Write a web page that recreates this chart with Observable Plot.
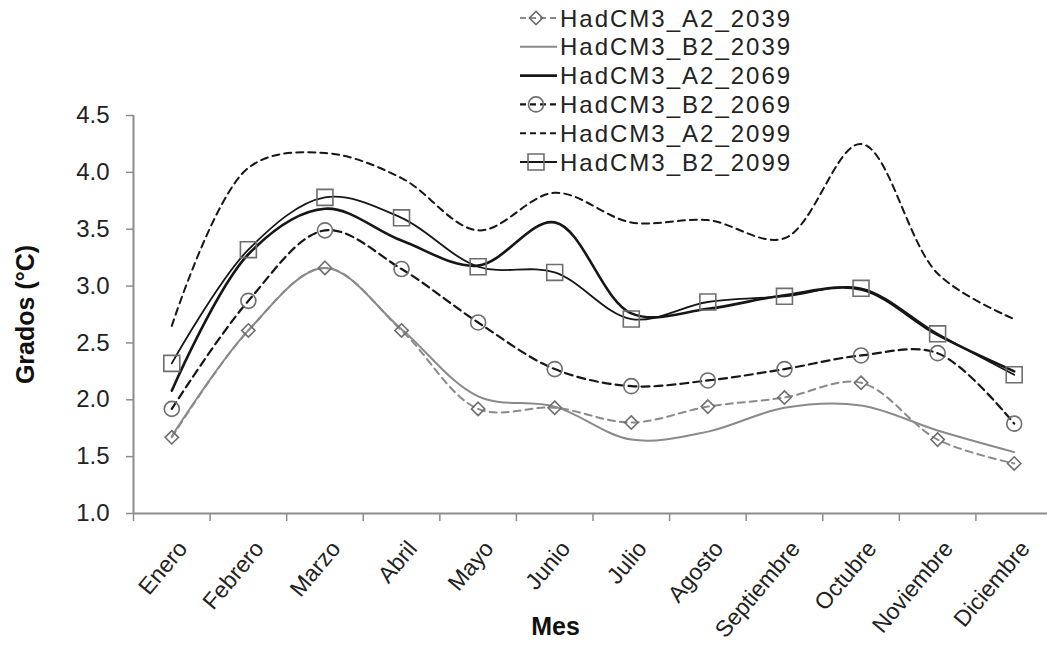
<!DOCTYPE html>
<html>
<head>
<meta charset="utf-8">
<script src="https://cdn.jsdelivr.net/npm/d3@7"></script>
<script src="https://cdn.jsdelivr.net/npm/@observablehq/plot@0.6"></script>
<style>
  html, body { margin: 0; padding: 0; background: #fff; overflow: hidden; }
  #chart { position: relative; width: 1047px; height: 654px; font-family: "Liberation Sans", Arial, sans-serif; }
  #legend { position: absolute; left: 512px; top: 0; }
</style>
</head>
<body>
<div id="chart"></div>
<script>
// Monthly temperature change (°C) projected by HadCM3 for scenarios A2/B2
const months = ["Enero", "Febrero", "Marzo", "Abril", "Mayo", "Junio", "Julio",
  "Agosto", "Septiembre", "Octubre", "Noviembre", "Diciembre"];

const a2_2039 = [1.67, 2.61, 3.16, 2.61, 1.92, 1.93, 1.80, 1.94, 2.02, 2.15, 1.65, 1.44];
const b2_2039 = [1.68, 2.61, 3.16, 2.62, 2.03, 1.94, 1.65, 1.72, 1.93, 1.95, 1.73, 1.54];
const a2_2069 = [2.08, 3.28, 3.68, 3.40, 3.18, 3.56, 2.76, 2.80, 2.92, 2.97, 2.57, 2.25];
const b2_2069 = [1.92, 2.87, 3.49, 3.15, 2.68, 2.27, 2.12, 2.17, 2.27, 2.39, 2.41, 1.79];
const a2_2099 = [2.65, 4.04, 4.17, 3.95, 3.49, 3.82, 3.56, 3.58, 3.42, 4.25, 3.11, 2.71];
const b2_2099 = [2.32, 3.32, 3.78, 3.60, 3.17, 3.12, 2.71, 2.86, 2.91, 2.98, 2.58, 2.22];

const yTicks = [1.0, 1.5, 2.0, 2.5, 3.0, 3.5, 4.0, 4.5];

const GREY = "#8a8a8a", MARK = "#6e6e6e", BLACK = "#161616", AXIS = "#8c8c8c";

const series = [
  {name: "HadCM3_A2_2039", values: a2_2039, stroke: GREY,  width: 2,   dash: "7,5", symbol: "diamond2", r: 6},
  {name: "HadCM3_B2_2039", values: b2_2039, stroke: GREY,  width: 2,   dash: null,  symbol: null},
  {name: "HadCM3_A2_2069", values: a2_2069, stroke: BLACK, width: 2.6, dash: null,  symbol: null},
  {name: "HadCM3_B2_2069", values: b2_2069, stroke: BLACK, width: 2.2, dash: "8,5", symbol: "circle", r: 7.5},
  {name: "HadCM3_A2_2099", values: a2_2099, stroke: BLACK, width: 2,   dash: "7,5", symbol: null},
  {name: "HadCM3_B2_2099", values: b2_2099, stroke: BLACK, width: 1.8, dash: null,  symbol: "square", r: 9}
];

const idx = (d, i) => i;
const val = d => d;

const marks = [
  // axis lines
  Plot.ruleX([-0.5], {stroke: AXIS, strokeWidth: 2}),
  Plot.ruleY([1], {stroke: AXIS, strokeWidth: 2}),
  Plot.axisY({
    ticks: yTicks, tickFormat: d3.format(".1f"), tickSize: 7, tickPadding: 17,
    fontSize: 24, stroke: AXIS, strokeWidth: 1.5, fill: "#222", label: null
  }),
  // category separators on the x axis
  Plot.axisX({
    ticks: d3.range(-0.5, 12, 1), tickFormat: () => "", tickSize: 8,
    stroke: AXIS, strokeWidth: 1.5, label: null
  }),
  // month labels
  Plot.text(months, {
    x: idx, frameAnchor: "bottom", text: val, rotate: -50,
    textAnchor: "end", lineAnchor: "middle", dx: 11, dy: 31,
    fontSize: 23, fill: "#222"
  }),
  Plot.text(["Grados (°C)"], {
    frameAnchor: "left", rotate: -90, dx: -108, fontSize: 25,
    textAnchor: "middle", fontWeight: "bold", fill: "#111"
  }),
  Plot.text(["Mes"], {
    frameAnchor: "bottom", dx: -35, dy: 121, fontSize: 25,
    fontWeight: "bold", fill: "#111"
  })
];

for (const s of series) {
  marks.push(Plot.line(s.values, {
    x: idx, y: val, curve: "catmull-rom", stroke: s.stroke,
    strokeWidth: s.width, strokeDasharray: s.dash
  }));
}
for (const s of series) {
  if (!s.symbol) continue;
  marks.push(Plot.dot(s.values, {
    x: idx, y: val, symbol: s.symbol, r: s.r, fill: "none",
    stroke: MARK, strokeWidth: 1.6
  }));
}

const chart = Plot.plot({
  width: 1047,
  height: 654,
  marginLeft: 133,
  marginRight: 0,
  marginTop: 115,
  marginBottom: 141,
  style: {fontFamily: "'Liberation Sans', Arial, sans-serif", background: "#fff", overflow: "hidden"},
  x: {domain: [-0.5, 11.5], range: [133, 1052], axis: null},
  y: {domain: [1, 4.5], axis: null},
  marks
});

const root = document.getElementById("chart");
root.appendChild(chart);

// legend drawn over the upper part of the chart
const rowH = 28.8;
const leg = d3.select(root).append("svg")
  .attr("id", "legend")
  .attr("width", 300)
  .attr("height", 180);

const symbolPath = (name, r) => {
  const type = {diamond2: d3.symbolDiamond2, circle: d3.symbolCircle, square: d3.symbolSquare}[name];
  return d3.symbol(type, Math.PI * r * r)();
};

series.forEach((s, i) => {
  const g = leg.append("g").attr("transform", `translate(0,${18 + i * rowH})`);
  g.append("line")
    .attr("x1", 8).attr("x2", 45).attr("y1", 0).attr("y2", 0)
    .attr("stroke", s.stroke).attr("stroke-width", s.width)
    .attr("stroke-dasharray", s.dash ? "6,4" : null);
  if (s.symbol) {
    g.append("path")
      .attr("d", symbolPath(s.symbol, s.r))
      .attr("transform", "translate(24,0)")
      .attr("fill", "none").attr("stroke", MARK).attr("stroke-width", 1.6);
  }
  g.append("text")
    .attr("x", 48).attr("y", 0).attr("dy", "0.36em")
    .attr("fill", "#222")
    .style("font-size", "24px")
    .style("letter-spacing", "2px")
    .style("font-family", "'Liberation Sans', Arial, sans-serif")
    .text(s.name);
});
</script>
</body>
</html>
